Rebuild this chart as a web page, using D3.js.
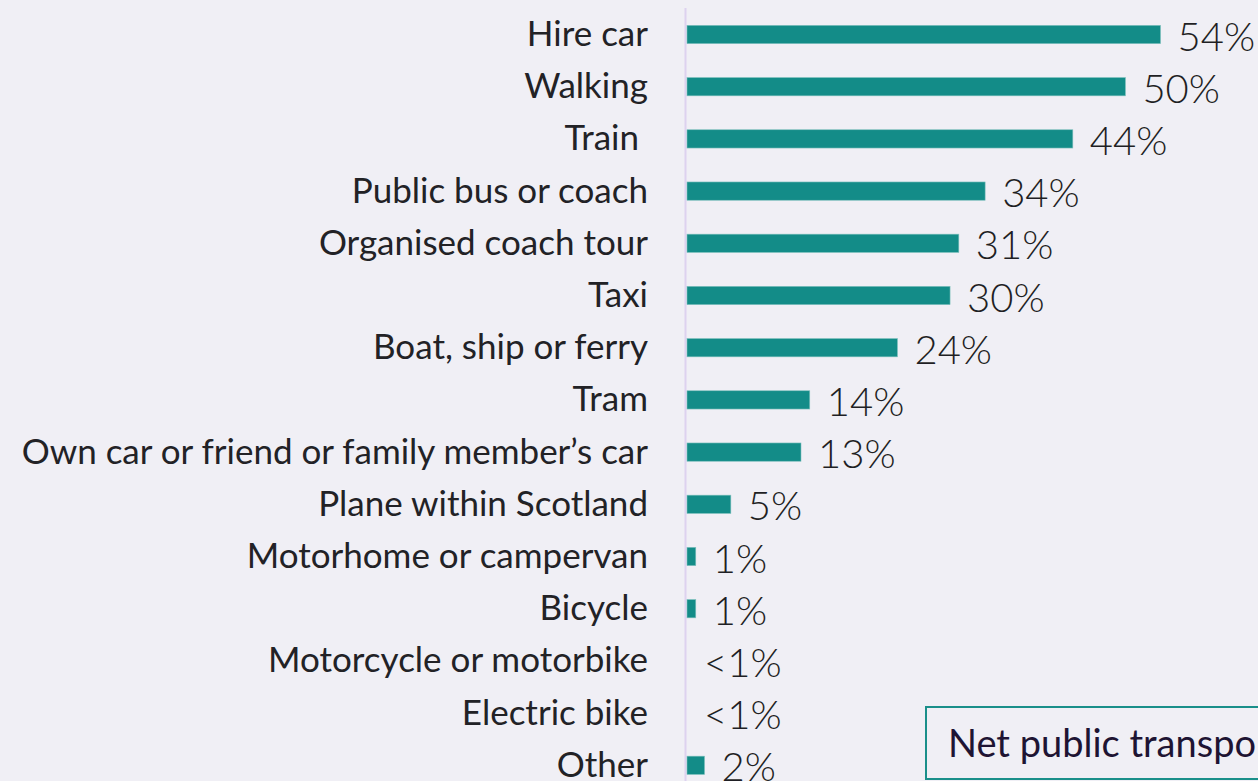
<!DOCTYPE html>
<html>
<head>
<meta charset="utf-8">
<script src="https://cdn.jsdelivr.net/npm/d3@7"></script>
<style>
  html, body { margin: 0; padding: 0; background: #f0eff5; }
  svg { display: block; }
  text { font-family: Lato, "Noto Sans", sans-serif; }
</style>
</head>
<body>
<div id="container"></div>
<script>

// categories, top to bottom
var categories = [
    "Hire car",
    "Walking",
    "Train ",
    "Public bus or coach",
    "Organised coach tour",
    "Taxi",
    "Boat, ship or ferry",
    "Tram",
    "Own car or friend or family member\u2019s car",
    "Plane within Scotland",
    "Motorhome or campervan",
    "Bicycle",
    "Motorcycle or motorbike",
    "Electric bike",
    "Other"
];

var values = [54, 50, 44, 34, 31, 30, 24, 14, 13, 5, 1, 1, 0, 0, 2];

var valueLabels = ["54%", "50%", "44%", "34%", "31%", "30%", "24%", "14%", "13%", "5%", "1%", "1%", "<1%", "<1%", "2%"];

var boxText = "Net public transport";

var width = 1258,
    height = 781;

var rows = categories.map(function (c, i) {
    return { name: c, value: values[i], label: valueLabels[i] };
});

var x = d3.scaleLinear()
    .domain([0, 54])
    .range([687, 1160.5]);

var y = d3.scaleBand()
    .domain(categories)
    .range([8.4, 791.4])
    .paddingInner(0.65)
    .paddingOuter(0.325);

var svg = d3.select("div#container").append("svg")
    .attr("width", width)
    .attr("height", height);

svg.append("rect")
    .attr("width", width)
    .attr("height", height)
    .attr("fill", "#f0eff5");

// vertical axis line
svg.append("line")
    .attr("x1", 685.5)
    .attr("x2", 685.5)
    .attr("y1", 8)
    .attr("y2", height)
    .attr("stroke", "#ddd2ef")
    .attr("stroke-width", 2);

svg.selectAll(".bar")
    .data(rows)
    .enter().append("rect")
    .attr("class", "bar")
    .attr("x", x(0))
    .attr("y", function (d) { return y(d.name); })
    .attr("width", function (d) { return x(d.value) - x(0); })
    .attr("height", y.bandwidth())
    .attr("fill", "#138c88")
    .attr("stroke", "#7fc0bd")
    .attr("stroke-width", function (d) { return d.value > 0 ? 0.6 : 0; });

svg.selectAll(".cat")
    .data(rows)
    .enter().append("text")
    .attr("class", "cat")
    .attr("x", 648)
    .attr("y", function (d) { return y(d.name) + y.bandwidth() / 2 + 11.5; })
    .attr("text-anchor", "end")
    .style("white-space", "pre")
    .attr("font-size", 35)
    .attr("fill", "#222226")
    .text(function (d) { return d.name; });

svg.selectAll(".val")
    .data(rows)
    .enter().append("text")
    .attr("class", "val")
    .attr("x", function (d) { return x(d.value) + 17; })
    .attr("y", function (d) { return y(d.name) + y.bandwidth() / 2 + 16; })
    .attr("font-size", 40)
    .attr("font-weight", 300)
    .attr("fill", "#1f1f24")
    .text(function (d) { return d.label; });

// annotation box, runs off the right edge
svg.append("rect")
    .attr("x", 926)
    .attr("y", 707)
    .attr("width", 400)
    .attr("height", 72)
    .attr("fill", "none")
    .attr("stroke", "#1a8f8a")
    .attr("stroke-width", 2);

svg.append("text")
    .attr("x", 948)
    .attr("y", 757)
    .attr("font-size", 38)
    .attr("fill", "#1e1433")
    .text(boxText);

</script>
</body>
</html>
